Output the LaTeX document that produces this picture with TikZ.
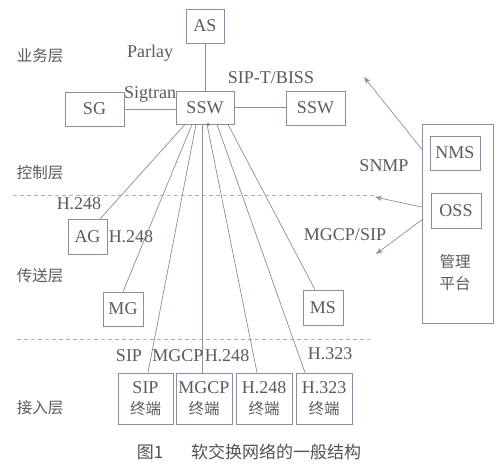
\documentclass[tikz,border=0pt]{standalone}
\usepackage{fontspec}
\setmainfont{Liberation Serif}
\newfontfamily\cjk{Noto Sans CJK SC}
\usetikzlibrary{arrows.meta}
\definecolor{lc}{RGB}{140,140,165}
\definecolor{tc}{RGB}{90,90,100}
\definecolor{dc}{RGB}{175,175,185}
\tikzset{
  box/.style={draw=lc, line width=0.8pt, inner sep=0pt, text=tc, font=\fontsize{18}{20}\selectfont},
  lat/.style={text=tc, inner sep=0pt, font=\fontsize{18}{20}\selectfont},
  cj/.style={text=tc, inner sep=0pt, font=\cjk\fontsize{15.5}{22}\selectfont},
  conn/.style={draw=lc, line width=0.7pt},
  arr/.style={draw=lc, line width=0.7pt, -{Stealth[length=7pt,width=5pt]}},
  layer/.style={draw=dc, line width=0.7pt, dash pattern=on 4pt off 3pt},
}
\begin{document}
\begin{tikzpicture}[x=1pt,y=-1pt]
\useasboundingbox[fill=white] (0,0) rectangle (500,470);
% boxes
\node[box, minimum width=38pt, minimum height=34pt] (as) at (205,26) {AS};
\node[box, minimum width=59pt, minimum height=34pt] (sg) at (94.5,109) {SG};
\node[box, minimum width=58pt, minimum height=33pt] (ssw) at (205,107.5) {SSW};
\node[box, minimum width=59pt, minimum height=34pt] (ssw2) at (315.5,108) {SSW};
\node[box, minimum width=71pt, minimum height=199pt] (mgmt) at (457.5,223.5) {};
\node[box, minimum width=50pt, minimum height=34pt] (nms) at (455,153) {NMS};
\node[box, minimum width=50pt, minimum height=35pt] (oss) at (456,210.5) {OSS};
\node[cj, align=center] (mgmtlbl) at (455,273) {管理\\平台};
\node[box, minimum width=39pt, minimum height=35pt] (ag) at (87.5,236.5) {AG};
\node[box, minimum width=40pt, minimum height=34pt] (mg) at (123,309) {MG};
\node[box, minimum width=40pt, minimum height=35pt] (ms) at (323,307.5) {MS};
\node[box, minimum width=55pt, minimum height=51pt, align=center] (tsip) at (145.5,398.5) {SIP\\[1pt]{\cjk\fontsize{15.5}{15}\selectfont 终端}};
\node[box, minimum width=56pt, minimum height=51pt, align=center] (tmgcp) at (204,398.5) {MGCP\\[1pt]{\cjk\fontsize{15.5}{15}\selectfont 终端}};
\node[box, minimum width=56pt, minimum height=51pt, align=center] (th248) at (264,398.5) {H.248\\[1pt]{\cjk\fontsize{15.5}{15}\selectfont 终端}};
\node[box, minimum width=56pt, minimum height=51pt, align=center] (th323) at (324,398.5) {H.323\\[1pt]{\cjk\fontsize{15.5}{15}\selectfont 终端}};
% layer lines
\coordinate (l1a) at (13,195); \coordinate (l1b) at (377,195);
\coordinate (l2a) at (17,339); \coordinate (l2b) at (370,339);
\draw[layer] (l1a) -- (l1b);
\draw[layer] (l2a) -- (l2b);
% layer labels
\node[cj] (ly1) at (40,56) {业务层};
\node[cj] (ly2) at (40,173) {控制层};
\node[cj] (ly3) at (40,276) {传送层};
\node[cj] (ly4) at (40,408) {接入层};
% connectors
\draw[conn] (as.south) -- (ssw.north);
\draw[conn] (sg.east) -- (ssw.west |- sg.east);
\draw[conn] (ssw.east) -- (ssw2.west |- ssw.east);
\draw[conn] ([xshift=-20pt]ssw.south) -- ([xshift=-7pt]ag.north east);
\draw[conn] ([xshift=-13pt]ssw.south) -- (mg.north);
\draw[conn] ([xshift=-9pt]ssw.south) -- ([xshift=2.5pt]tsip.north);
\draw[conn] ([xshift=-3pt]ssw.south) -- ([xshift=-2pt]tmgcp.north);
\draw[conn] ([xshift=2pt]ssw.south) -- ([xshift=-7pt]th248.north);
\draw[conn] ([xshift=12pt]ssw.south) -- ([xshift=-19pt]th323.north);
\draw[conn] ([xshift=23pt]ssw.south) -- ([xshift=-8pt]ms.north);
\fill[lc!80!black] ([xshift=3pt]ssw.south) circle (1.6pt);
% management arrows
\coordinate (a1) at (364,77);
\coordinate (a2) at (375,197);
\coordinate (a3) at (376,254);
\draw[arr] (mgmt.west |- 0,149) -- (a1);
\draw[arr] (mgmt.west |- 0,207) -- (a2);
\draw[arr] (mgmt.west |- 0,220) -- (a3);
% protocol labels
\node[lat] (parlay) at (150,53) {Parlay};
\node[lat] (sigtran) at (150,94) {Sigtran};
\node[lat] (sipt) at (271,78) {SIP-T/BISS};
\node[lat] (snmp) at (384,166) {SNMP};
\node[lat] (mgcpsip) at (345,235) {MGCP/SIP};
\node[lat] (h248a) at (79,204) {H.248};
\node[lat] (h248b) at (131,237) {H.248};
\node[lat] (psip) at (129,356) {SIP};
\node[lat] (pmgcp) at (178,356) {MGCP};
\node[lat] (ph248) at (227,356) {H.248};
\node[lat] (ph323) at (330,354) {H.323};
% caption
\node[text=tc!90!black, inner sep=0pt, font=\cjk\fontsize{17}{20}\selectfont] (cap1) at (150,452) {图1};
\node[text=tc!90!black, inner sep=0pt, font=\cjk\fontsize{17}{20}\selectfont] (cap2) at (276,452) {软交换网络的一般结构};
\end{tikzpicture}
\end{document}
